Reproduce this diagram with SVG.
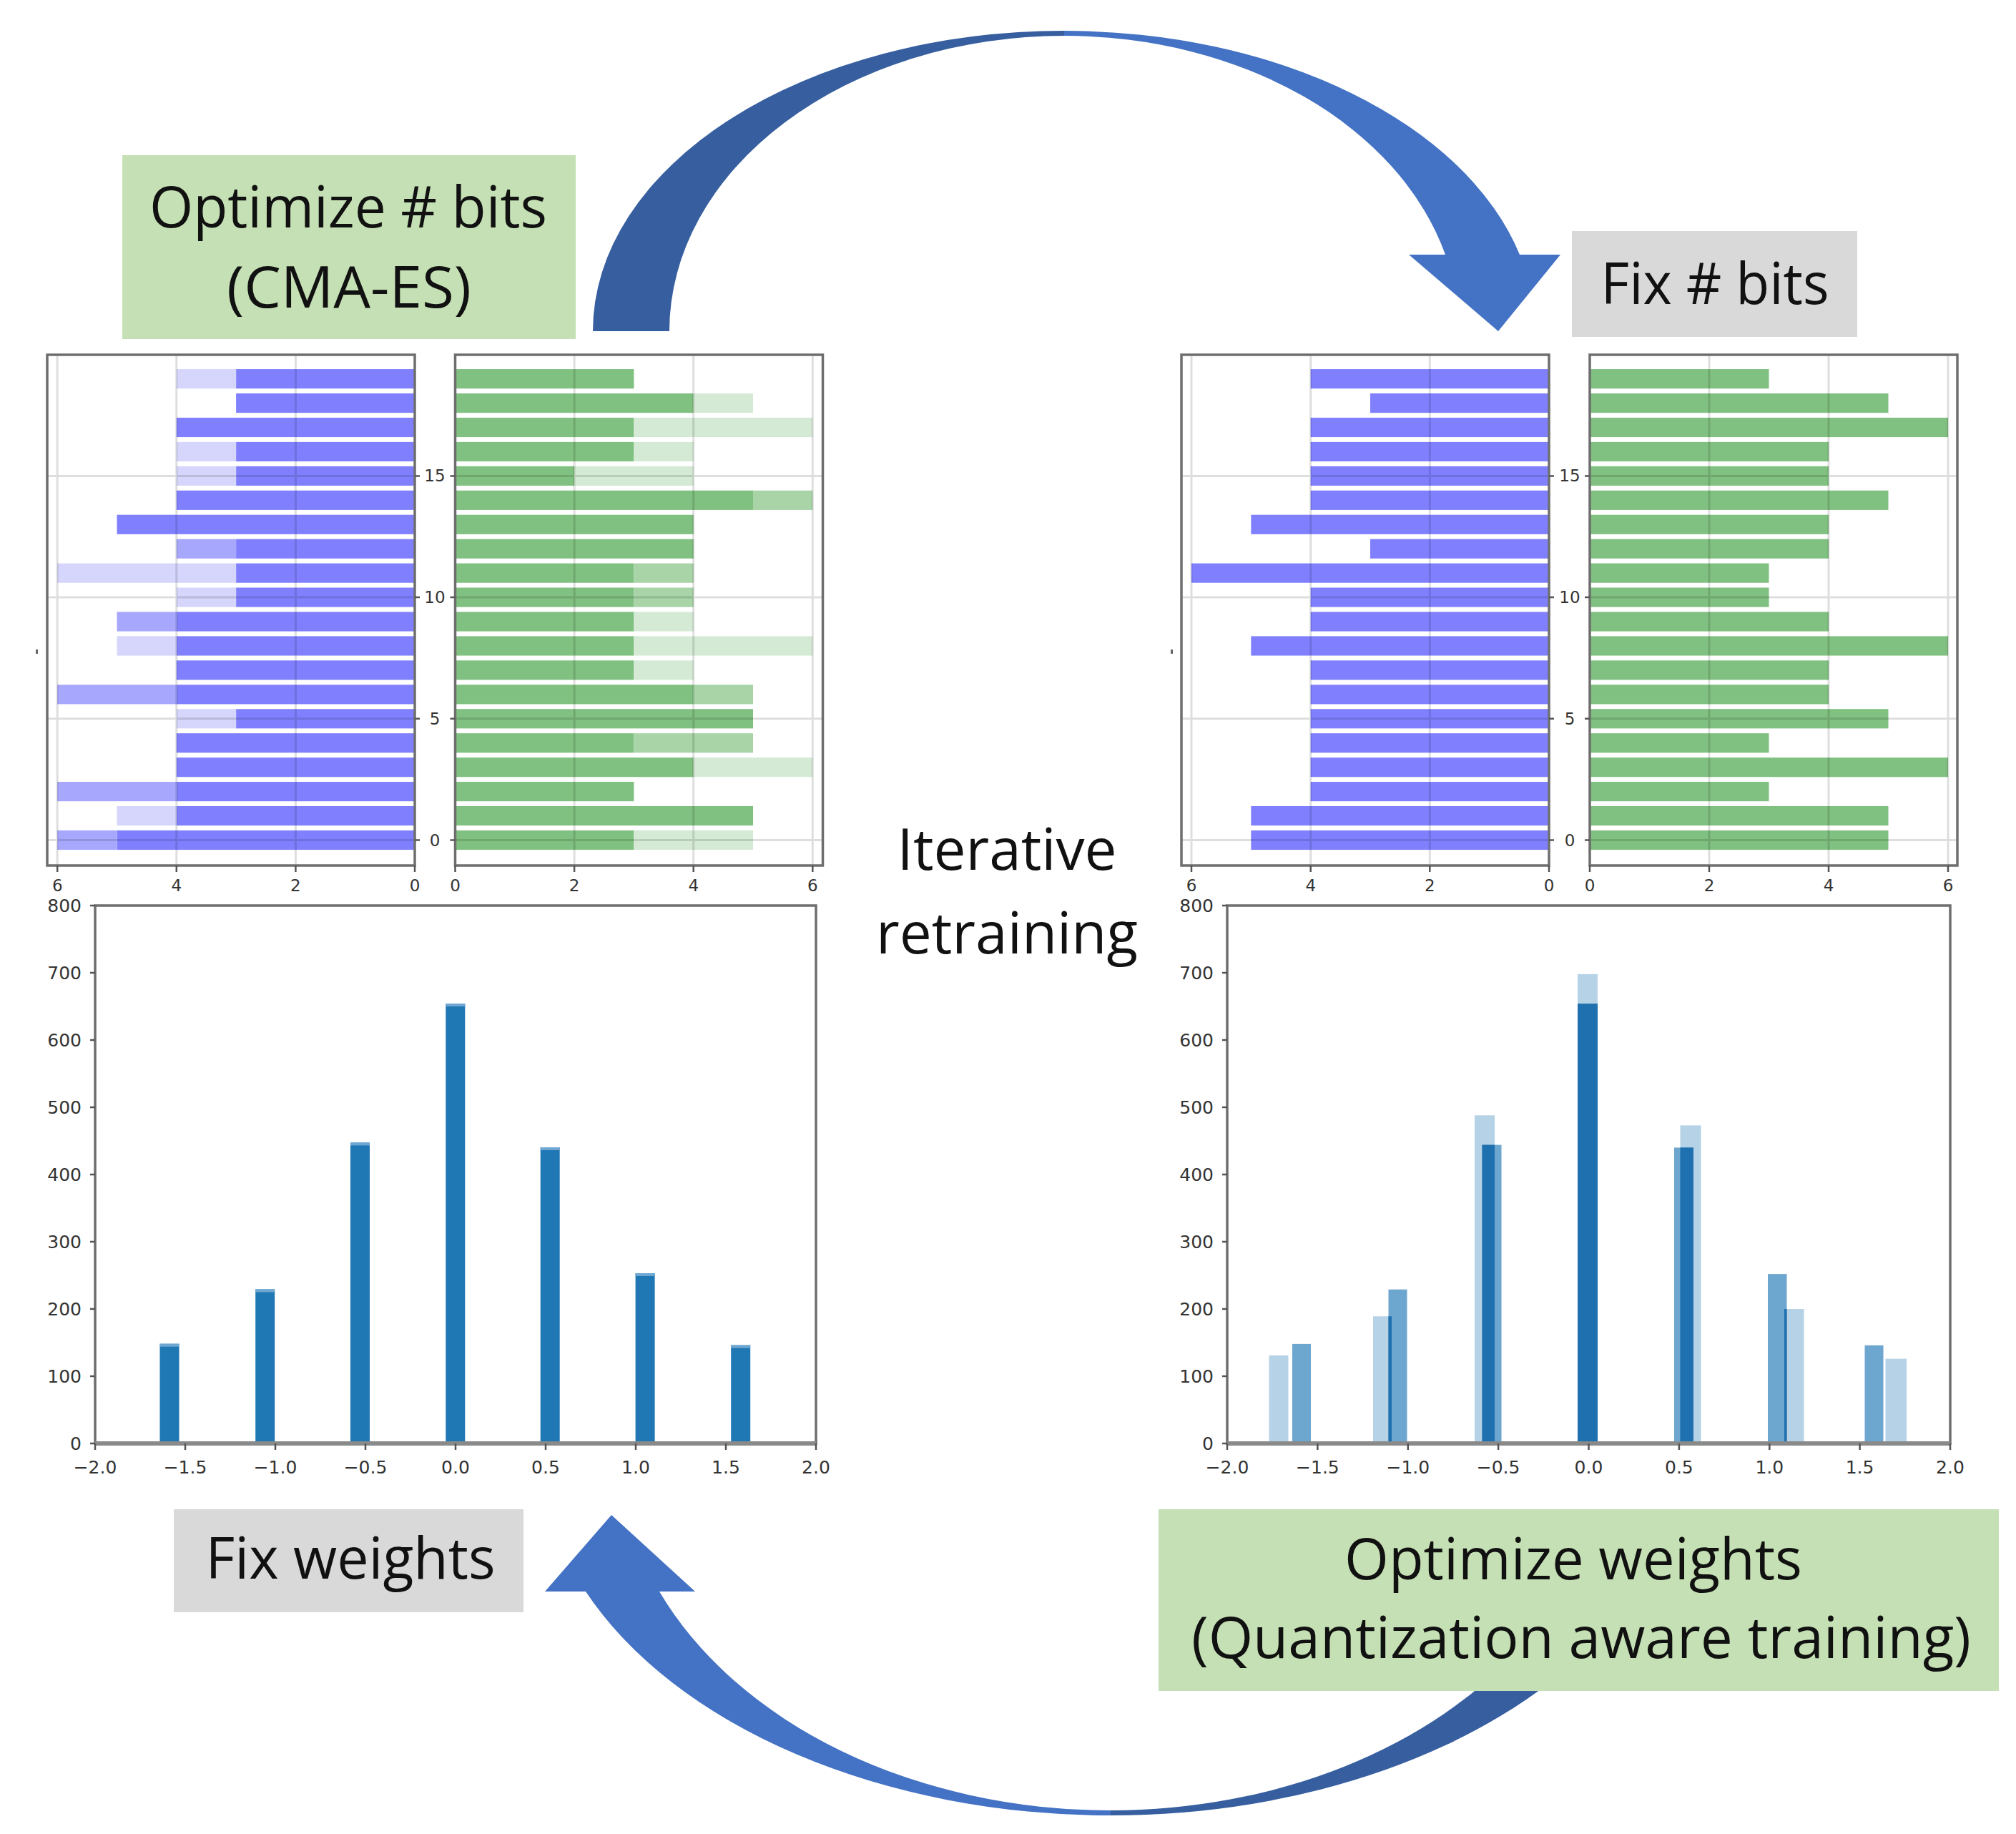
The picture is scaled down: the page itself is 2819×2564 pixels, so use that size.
<svg xmlns="http://www.w3.org/2000/svg" width="2819" height="2564" viewBox="0 0 2819 2564">
<style>
.bd{fill:#8080ff}.bl{fill:#d6d6fc}.bm{fill:#a7a7fd}
.gd{fill:#80c080}.gl{fill:#d5ead5}.gm{fill:#a8d4a8}
.grid{stroke:#000;stroke-opacity:0.13;stroke-width:3}
.spine{fill:none;stroke:#6e6e6e;stroke-width:3.5}
.tick{stroke:#555;stroke-width:2.5}
.tl{font-family:"DejaVu Sans",sans-serif;font-size:23px;fill:#333;text-anchor:middle}
.yl{font-family:"DejaVu Sans",sans-serif;font-size:25px;fill:#333;text-anchor:end}
.xl{font-family:"DejaVu Sans",sans-serif;font-size:25px;fill:#333;text-anchor:middle}
.lab{font-family:"Open Sans","DejaVu Sans",sans-serif;font-size:80px;fill:#111;text-anchor:middle}
.hA{fill:#1f77b4;fill-opacity:0.65}.hB{fill:#1f77b4;fill-opacity:0.33}.hO{fill:#1f70af}
.h{fill:#1f77b4}.hc{fill:#6fa7d2}
</style>
<rect width="2819" height="2564" fill="#fff"/>

<g id="connectors">
  <path fill="#375e9f" d="M 829,463 A 659 420 0 0 1 1488,43 L 1488,50 A 552 413 0 0 0 936,463 Z"/>
  <path fill="#4472c4" d="M 1488,43 A 659 420 0 0 1 2125,356 L 2182,356 L 2095,463 L 1970,356 L 2021,356 A 552 413 0 0 0 1488,50 Z"/>
  <path fill="#4472c4" d="M 762,2225 L 855,2118 L 972,2225 L 922,2225 A 689 511 0 0 0 1553,2531 L 1553,2538 A 800 518 0 0 1 819,2225 Z"/>
  <path fill="#375e9f" d="M 1553,2538 A 800 518 0 0 0 2226,2300 L 2129,2300 A 689 511 0 0 1 1553,2531 Z"/>
</g>

<g id="bits-left-blue">
  <g transform="translate(580 1174.5) scale(-83.3 -33.94)">
    <rect class="bd" x="0" y="18.6" width="3" height="0.8"/><rect class="bl" x="3" y="18.6" width="1" height="0.8"/>
    <rect class="bd" x="0" y="17.6" width="3" height="0.8"/>
    <rect class="bd" x="0" y="16.6" width="4" height="0.8"/>
    <rect class="bd" x="0" y="15.6" width="3" height="0.8"/><rect class="bl" x="3" y="15.6" width="1" height="0.8"/>
    <rect class="bd" x="0" y="14.6" width="3" height="0.8"/><rect class="bl" x="3" y="14.6" width="1" height="0.8"/>
    <rect class="bd" x="0" y="13.6" width="4" height="0.8"/>
    <rect class="bd" x="0" y="12.6" width="5" height="0.8"/>
    <rect class="bd" x="0" y="11.6" width="3" height="0.8"/><rect class="bm" x="3" y="11.6" width="1" height="0.8"/>
    <rect class="bd" x="0" y="10.6" width="3" height="0.8"/><rect class="bl" x="3" y="10.6" width="3" height="0.8"/>
    <rect class="bd" x="0" y="9.6" width="3" height="0.8"/><rect class="bl" x="3" y="9.6" width="1" height="0.8"/>
    <rect class="bd" x="0" y="8.6" width="4" height="0.8"/><rect class="bm" x="4" y="8.6" width="1" height="0.8"/>
    <rect class="bd" x="0" y="7.6" width="4" height="0.8"/><rect class="bl" x="4" y="7.6" width="1" height="0.8"/>
    <rect class="bd" x="0" y="6.6" width="4" height="0.8"/>
    <rect class="bd" x="0" y="5.6" width="4" height="0.8"/><rect class="bm" x="4" y="5.6" width="2" height="0.8"/>
    <rect class="bd" x="0" y="4.6" width="3" height="0.8"/><rect class="bl" x="3" y="4.6" width="1" height="0.8"/>
    <rect class="bd" x="0" y="3.6" width="4" height="0.8"/>
    <rect class="bd" x="0" y="2.6" width="4" height="0.8"/>
    <rect class="bd" x="0" y="1.6" width="4" height="0.8"/><rect class="bm" x="4" y="1.6" width="2" height="0.8"/>
    <rect class="bd" x="0" y="0.6" width="4" height="0.8"/><rect class="bl" x="4" y="0.6" width="1" height="0.8"/>
    <rect class="bd" x="0" y="-0.4" width="5" height="0.8"/><rect class="bm" x="5" y="-0.4" width="1" height="0.8"/>
  </g>
  <path class="grid" d="M413.4,497V1209M246.8,497V1209M80.2,497V1209M67,1174.5H580M67,1004.8H580M67,835.1H580M67,665.4H580"/>
  <rect class="spine" x="66" y="496" width="514" height="714"/>
  <path class="tick" d="M80.2,1210V1219M246.8,1210V1219M413.4,1210V1219M580,1210V1219M580,1174.5H587M580,1004.8H587M580,835.1H587M580,665.4H587"/>
  <text class="tl" x="80.2" y="1246">6</text><text class="tl" x="246.8" y="1246">4</text><text class="tl" x="413.4" y="1246">2</text><text class="tl" x="580" y="1246">0</text>
  <text class="tl" x="608" y="1182.5">0</text><text class="tl" x="608" y="1012.8">5</text><text class="tl" x="608" y="843.1">10</text><text class="tl" x="608" y="673.4">15</text>
  <rect x="50" y="908" width="3" height="6" fill="#666"/>
</g>

<g id="bits-left-green">
  <g transform="translate(636.5 1174.5) scale(83.3 -33.94)">
    <rect class="gd" x="0" y="18.6" width="3" height="0.8"/>
    <rect class="gd" x="0" y="17.6" width="4" height="0.8"/><rect class="gl" x="4" y="17.6" width="1" height="0.8"/>
    <rect class="gd" x="0" y="16.6" width="3" height="0.8"/><rect class="gl" x="3" y="16.6" width="3" height="0.8"/>
    <rect class="gd" x="0" y="15.6" width="3" height="0.8"/><rect class="gl" x="3" y="15.6" width="1" height="0.8"/>
    <rect class="gd" x="0" y="14.6" width="2" height="0.8"/><rect class="gl" x="2" y="14.6" width="2" height="0.8"/>
    <rect class="gd" x="0" y="13.6" width="5" height="0.8"/><rect class="gm" x="5" y="13.6" width="1" height="0.8"/>
    <rect class="gd" x="0" y="12.6" width="4" height="0.8"/>
    <rect class="gd" x="0" y="11.6" width="4" height="0.8"/>
    <rect class="gd" x="0" y="10.6" width="3" height="0.8"/><rect class="gm" x="3" y="10.6" width="1" height="0.8"/>
    <rect class="gd" x="0" y="9.6" width="3" height="0.8"/><rect class="gm" x="3" y="9.6" width="1" height="0.8"/>
    <rect class="gd" x="0" y="8.6" width="3" height="0.8"/><rect class="gl" x="3" y="8.6" width="1" height="0.8"/>
    <rect class="gd" x="0" y="7.6" width="3" height="0.8"/><rect class="gl" x="3" y="7.6" width="3" height="0.8"/>
    <rect class="gd" x="0" y="6.6" width="3" height="0.8"/><rect class="gl" x="3" y="6.6" width="1" height="0.8"/>
    <rect class="gd" x="0" y="5.6" width="4" height="0.8"/><rect class="gm" x="4" y="5.6" width="1" height="0.8"/>
    <rect class="gd" x="0" y="4.6" width="5" height="0.8"/>
    <rect class="gd" x="0" y="3.6" width="3" height="0.8"/><rect class="gm" x="3" y="3.6" width="2" height="0.8"/>
    <rect class="gd" x="0" y="2.6" width="4" height="0.8"/><rect class="gl" x="4" y="2.6" width="2" height="0.8"/>
    <rect class="gd" x="0" y="1.6" width="3" height="0.8"/>
    <rect class="gd" x="0" y="0.6" width="5" height="0.8"/>
    <rect class="gd" x="0" y="-0.4" width="3" height="0.8"/><rect class="gl" x="3" y="-0.4" width="2" height="0.8"/>
  </g>
  <path class="grid" d="M803.1,497V1209M969.7,497V1209M1136.3,497V1209M637,1174.5H1150M637,1004.8H1150M637,835.1H1150M637,665.4H1150"/>
  <rect class="spine" x="636.5" y="496" width="514" height="714"/>
  <path class="tick" d="M636.5,1210V1219M803.1,1210V1219M969.7,1210V1219M1136.3,1210V1219M636.5,1174.5H629.5M636.5,1004.8H629.5M636.5,835.1H629.5M636.5,665.4H629.5"/>
  <text class="tl" x="636.5" y="1246">0</text><text class="tl" x="803.1" y="1246">2</text><text class="tl" x="969.7" y="1246">4</text><text class="tl" x="1136.3" y="1246">6</text>
</g>

<g id="bits-right-blue">
  <g transform="translate(2166 1174.5) scale(-83.33 -33.94)">
    <rect class="bd" x="0" y="18.6" width="4" height="0.8"/>
    <rect class="bd" x="0" y="17.6" width="3" height="0.8"/>
    <rect class="bd" x="0" y="16.6" width="4" height="0.8"/>
    <rect class="bd" x="0" y="15.6" width="4" height="0.8"/>
    <rect class="bd" x="0" y="14.6" width="4" height="0.8"/>
    <rect class="bd" x="0" y="13.6" width="4" height="0.8"/>
    <rect class="bd" x="0" y="12.6" width="5" height="0.8"/>
    <rect class="bd" x="0" y="11.6" width="3" height="0.8"/>
    <rect class="bd" x="0" y="10.6" width="6" height="0.8"/>
    <rect class="bd" x="0" y="9.6" width="4" height="0.8"/>
    <rect class="bd" x="0" y="8.6" width="4" height="0.8"/>
    <rect class="bd" x="0" y="7.6" width="5" height="0.8"/>
    <rect class="bd" x="0" y="6.6" width="4" height="0.8"/>
    <rect class="bd" x="0" y="5.6" width="4" height="0.8"/>
    <rect class="bd" x="0" y="4.6" width="4" height="0.8"/>
    <rect class="bd" x="0" y="3.6" width="4" height="0.8"/>
    <rect class="bd" x="0" y="2.6" width="4" height="0.8"/>
    <rect class="bd" x="0" y="1.6" width="4" height="0.8"/>
    <rect class="bd" x="0" y="0.6" width="5" height="0.8"/>
    <rect class="bd" x="0" y="-0.4" width="5" height="0.8"/>
  </g>
  <path class="grid" d="M1999.3,497V1209M1832.7,497V1209M1666,497V1209M1653,1174.5H2166M1653,1004.8H2166M1653,835.1H2166M1653,665.4H2166"/>
  <rect class="spine" x="1652" y="496" width="514" height="714"/>
  <path class="tick" d="M1666,1210V1219M1832.7,1210V1219M1999.3,1210V1219M2166,1210V1219M2166,1174.5H2173M2166,1004.8H2173M2166,835.1H2173M2166,665.4H2173"/>
  <text class="tl" x="1666" y="1246">6</text><text class="tl" x="1832.7" y="1246">4</text><text class="tl" x="1999.3" y="1246">2</text><text class="tl" x="2166" y="1246">0</text>
  <text class="tl" x="2195" y="1182.5">0</text><text class="tl" x="2195" y="1012.8">5</text><text class="tl" x="2195" y="843.1">10</text><text class="tl" x="2195" y="673.4">15</text>
  <rect x="1637" y="908" width="3" height="6" fill="#666"/>
</g>

<g id="bits-right-green">
  <g transform="translate(2223 1174.5) scale(83.5 -33.94)">
    <rect class="gd" x="0" y="18.6" width="3" height="0.8"/>
    <rect class="gd" x="0" y="17.6" width="5" height="0.8"/>
    <rect class="gd" x="0" y="16.6" width="6" height="0.8"/>
    <rect class="gd" x="0" y="15.6" width="4" height="0.8"/>
    <rect class="gd" x="0" y="14.6" width="4" height="0.8"/>
    <rect class="gd" x="0" y="13.6" width="5" height="0.8"/>
    <rect class="gd" x="0" y="12.6" width="4" height="0.8"/>
    <rect class="gd" x="0" y="11.6" width="4" height="0.8"/>
    <rect class="gd" x="0" y="10.6" width="3" height="0.8"/>
    <rect class="gd" x="0" y="9.6" width="3" height="0.8"/>
    <rect class="gd" x="0" y="8.6" width="4" height="0.8"/>
    <rect class="gd" x="0" y="7.6" width="6" height="0.8"/>
    <rect class="gd" x="0" y="6.6" width="4" height="0.8"/>
    <rect class="gd" x="0" y="5.6" width="4" height="0.8"/>
    <rect class="gd" x="0" y="4.6" width="5" height="0.8"/>
    <rect class="gd" x="0" y="3.6" width="3" height="0.8"/>
    <rect class="gd" x="0" y="2.6" width="6" height="0.8"/>
    <rect class="gd" x="0" y="1.6" width="3" height="0.8"/>
    <rect class="gd" x="0" y="0.6" width="5" height="0.8"/>
    <rect class="gd" x="0" y="-0.4" width="5" height="0.8"/>
  </g>
  <path class="grid" d="M2390,497V1209M2557,497V1209M2724,497V1209M2224,1174.5H2737M2224,1004.8H2737M2224,835.1H2737M2224,665.4H2737"/>
  <rect class="spine" x="2223" y="496" width="514" height="714"/>
  <path class="tick" d="M2223,1210V1219M2390,1210V1219M2557,1210V1219M2724,1210V1219M2223,1174.5H2216M2223,1004.8H2216M2223,835.1H2216M2223,665.4H2216"/>
  <text class="tl" x="2223" y="1246">0</text><text class="tl" x="2390" y="1246">2</text><text class="tl" x="2557" y="1246">4</text><text class="tl" x="2724" y="1246">6</text>
</g>

<g id="hist-left">
  <rect class="h" x="223.5" y="1878.7" width="27" height="139.3"/><rect class="hc" x="223.5" y="1878.7" width="27" height="4"/>
  <rect class="h" x="357.2" y="1802.5" width="27" height="215.5"/><rect class="hc" x="357.2" y="1802.5" width="27" height="4"/>
  <rect class="h" x="490" y="1597.4" width="27" height="420.6"/><rect class="hc" x="490" y="1597.4" width="27" height="4"/>
  <rect class="h" x="623.3" y="1403" width="27" height="615"/><rect class="hc" x="623.3" y="1403" width="27" height="4"/>
  <rect class="h" x="755.7" y="1604" width="27" height="414"/><rect class="hc" x="755.7" y="1604" width="27" height="4"/>
  <rect class="h" x="888.6" y="1780" width="27" height="238"/><rect class="hc" x="888.6" y="1780" width="27" height="4"/>
  <rect class="h" x="1022.2" y="1880.6" width="27" height="137.4"/><rect class="hc" x="1022.2" y="1880.6" width="27" height="4"/>
  <rect class="spine" x="133" y="1266" width="1008" height="752"/>
  <line x1="133" y1="2018" x2="1141" y2="2018" stroke="#8a8a8a" stroke-width="6"/>
  <path class="tick" d="M133,2018H126M133,1924H126M133,1830H126M133,1736H126M133,1642H126M133,1548H126M133,1454H126M133,1360H126M133,1266H126M133,2018V2027M259,2018V2027M385,2018V2027M511,2018V2027M637,2018V2027M763,2018V2027M889,2018V2027M1015,2018V2027M1141,2018V2027"/>
  <text class="yl" x="114" y="2027">0</text><text class="yl" x="114" y="1933">100</text><text class="yl" x="114" y="1839">200</text><text class="yl" x="114" y="1745">300</text><text class="yl" x="114" y="1651">400</text><text class="yl" x="114" y="1557">500</text><text class="yl" x="114" y="1463">600</text><text class="yl" x="114" y="1369">700</text><text class="yl" x="114" y="1275">800</text>
  <text class="xl" x="133" y="2060">−2.0</text><text class="xl" x="259" y="2060">−1.5</text><text class="xl" x="385" y="2060">−1.0</text><text class="xl" x="511" y="2060">−0.5</text><text class="xl" x="637" y="2060">0.0</text><text class="xl" x="763" y="2060">0.5</text><text class="xl" x="889" y="2060">1.0</text><text class="xl" x="1015" y="2060">1.5</text><text class="xl" x="1141" y="2060">2.0</text>
</g>

<g id="hist-right">
  <rect class="hB" x="1774.5" y="1894.9" width="27" height="123.1"/>
  <rect class="hB" x="1920" y="1840.3" width="26" height="177.7"/>
  <rect class="hB" x="2062" y="1559.3" width="28" height="458.7"/>
  <rect class="hB" x="2206" y="1361.9" width="28" height="656.1"/>
  <rect class="hB" x="2349.5" y="1573.4" width="29" height="444.6"/>
  <rect class="hB" x="2495" y="1830" width="27.5" height="188"/>
  <rect class="hB" x="2636.5" y="1899.6" width="29.5" height="118.4"/>
  <rect class="hA" x="1807" y="1878.9" width="26" height="139.1"/>
  <rect class="hA" x="1941.5" y="1802.7" width="26" height="215.3"/>
  <rect class="hA" x="2072.5" y="1600.6" width="27" height="417.4"/>
  <rect class="hA" x="2206" y="1403.2" width="28" height="614.8"/>
  <rect class="hA" x="2341" y="1604.4" width="27" height="413.6"/>
  <rect class="hA" x="2472" y="1781.1" width="26.5" height="236.9"/>
  <rect class="hA" x="2607.5" y="1880.8" width="26" height="137.2"/>
  <rect class="hO" x="1941.5" y="1840.3" width="4.5" height="177.7"/>
  <rect class="hO" x="2072.5" y="1600.6" width="17.5" height="417.4"/>
  <rect class="hO" x="2206" y="1403.2" width="28" height="614.8"/>
  <rect class="hO" x="2349.5" y="1604.4" width="18.5" height="413.6"/>
  <rect class="hO" x="2495" y="1830" width="3.5" height="188"/>
  <rect class="spine" x="1716" y="1266" width="1011" height="752"/>
  <line x1="1716" y1="2018" x2="2727" y2="2018" stroke="#8a8a8a" stroke-width="6"/>
  <path class="tick" d="M1716,2018H1709M1716,1924H1709M1716,1830H1709M1716,1736H1709M1716,1642H1709M1716,1548H1709M1716,1454H1709M1716,1360H1709M1716,1266H1709M1716,2018V2027M1842.4,2018V2027M1968.8,2018V2027M2095.1,2018V2027M2221.5,2018V2027M2347.9,2018V2027M2474.3,2018V2027M2600.6,2018V2027M2727,2018V2027"/>
  <text class="yl" x="1697" y="2027">0</text><text class="yl" x="1697" y="1933">100</text><text class="yl" x="1697" y="1839">200</text><text class="yl" x="1697" y="1745">300</text><text class="yl" x="1697" y="1651">400</text><text class="yl" x="1697" y="1557">500</text><text class="yl" x="1697" y="1463">600</text><text class="yl" x="1697" y="1369">700</text><text class="yl" x="1697" y="1275">800</text>
  <text class="xl" x="1716" y="2060">−2.0</text><text class="xl" x="1842.4" y="2060">−1.5</text><text class="xl" x="1968.8" y="2060">−1.0</text><text class="xl" x="2095.1" y="2060">−0.5</text><text class="xl" x="2221.5" y="2060">0.0</text><text class="xl" x="2347.9" y="2060">0.5</text><text class="xl" x="2474.3" y="2060">1.0</text><text class="xl" x="2600.6" y="2060">1.5</text><text class="xl" x="2727" y="2060">2.0</text>
</g>

<g id="optimize-bits">
  <rect x="171" y="217" width="634" height="257" fill="#c5e0b4"/>
  <text class="lab" x="487" y="318" textLength="556" lengthAdjust="spacingAndGlyphs">Optimize # bits</text>
  <text class="lab" x="488" y="430" textLength="342" lengthAdjust="spacingAndGlyphs">(CMA-ES)</text>
</g>

<g id="fix-bits">
  <rect x="2198" y="323" width="399" height="148" fill="#d9d9d9"/>
  <text class="lab" x="2398" y="425" textLength="319" lengthAdjust="spacingAndGlyphs">Fix # bits</text>
</g>

<g id="iterative">
  <text class="lab" x="1408" y="1216" textLength="307" lengthAdjust="spacingAndGlyphs">Iterative</text>
  <text class="lab" x="1408" y="1333" textLength="366" lengthAdjust="spacingAndGlyphs">retraining</text>
</g>

<g id="fix-weights">
  <rect x="243" y="2110" width="489" height="144" fill="#d9d9d9"/>
  <text class="lab" x="490" y="2207" textLength="405" lengthAdjust="spacingAndGlyphs">Fix weights</text>
</g>

<g id="optimize-weights">
  <rect x="1620" y="2110" width="1175" height="254" fill="#c5e0b4"/>
  <text class="lab" x="2200" y="2208" textLength="640" lengthAdjust="spacingAndGlyphs">Optimize weights</text>
  <text class="lab" x="2211" y="2318" textLength="1090" lengthAdjust="spacingAndGlyphs">(Quantization aware training)</text>
</g>
</svg>
